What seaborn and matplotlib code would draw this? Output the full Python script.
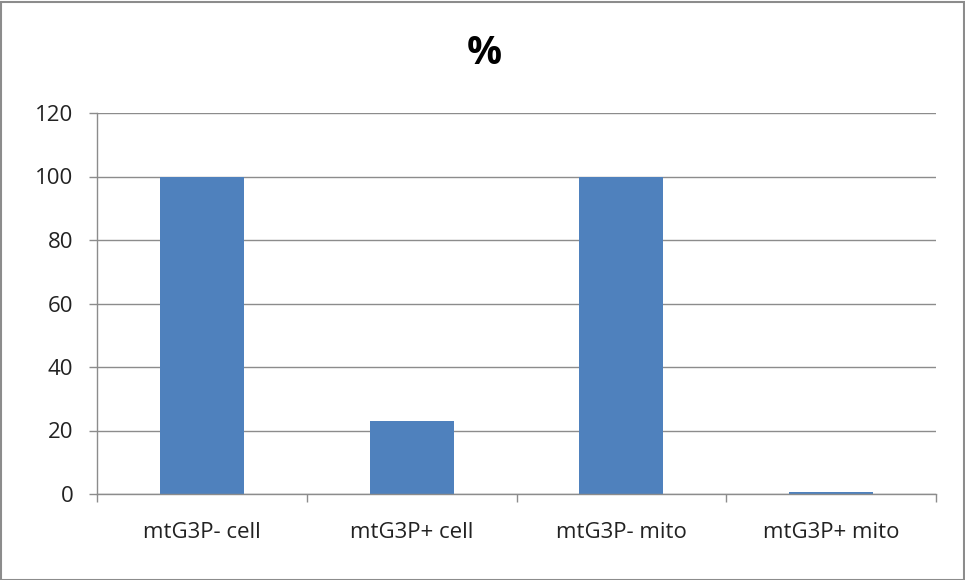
import matplotlib
matplotlib.use("Agg")
import matplotlib.pyplot as plt
import seaborn as sns
import pandas as pd
from matplotlib.patches import Rectangle

categories = ["mtG3P- cell", "mtG3P+ cell", "mtG3P- mito", "mtG3P+ mito"]
values = [100, 23, 100, 0.6]
y_ticks = [0, 20, 40, 60, 80, 100, 120]

sns.set_theme(style="white")
plt.rcParams["font.family"] = ["Open Sans", "DejaVu Sans"]

W, H = 965, 580
fig = plt.figure(figsize=(W / 100, H / 100), dpi=100)
ax = fig.add_axes([97 / W, (H - 494) / H, (936 - 97) / W, (494 - 113) / H])

df = pd.DataFrame({"cat": categories, "val": values})
sns.barplot(data=df, x="cat", y="val", color="#4F81BD", saturation=1,
            width=0.4, ax=ax, edgecolor="none")

grid_c = "#8C8C8C"
ax.set_ylim(0, 120)
ax.set_xlim(-0.5, 3.5)
ax.set_yticks(y_ticks)
ax.yaxis.grid(True, color=grid_c, linewidth=1)
ax.set_axisbelow(True)
for s in ["top", "right"]:
    ax.spines[s].set_visible(False)
for s in ["left", "bottom"]:
    ax.spines[s].set_color(grid_c)
    ax.spines[s].set_linewidth(1)

ax.set_xlabel("")
ax.set_ylabel("")
ax.tick_params(axis="y", direction="out", length=6, width=1, color=grid_c,
               left=True, pad=11, labelsize=16, labelcolor="#222222")
ax.tick_params(axis="x", which="major", length=0, pad=20, labelsize=16,
               labelcolor="#222222")
ax.set_xticks([-0.5, 0.5, 1.5, 2.5, 3.5], minor=True)
ax.tick_params(axis="x", which="minor", direction="out", length=6, width=1,
               color=grid_c, bottom=True)

fig.text(484 / W, 1 - 53 / H, "%", ha="center", va="center",
         fontsize=28, fontweight="bold", color="black")

fig.patches.append(Rectangle((0.5 / W, 0.5 / H), 1 - 2 / W, 1 - 2 / H,
                             transform=fig.transFigure, fill=False,
                             edgecolor="#8C8C8C", linewidth=1.5))

fig.savefig("out.png", dpi=100)
